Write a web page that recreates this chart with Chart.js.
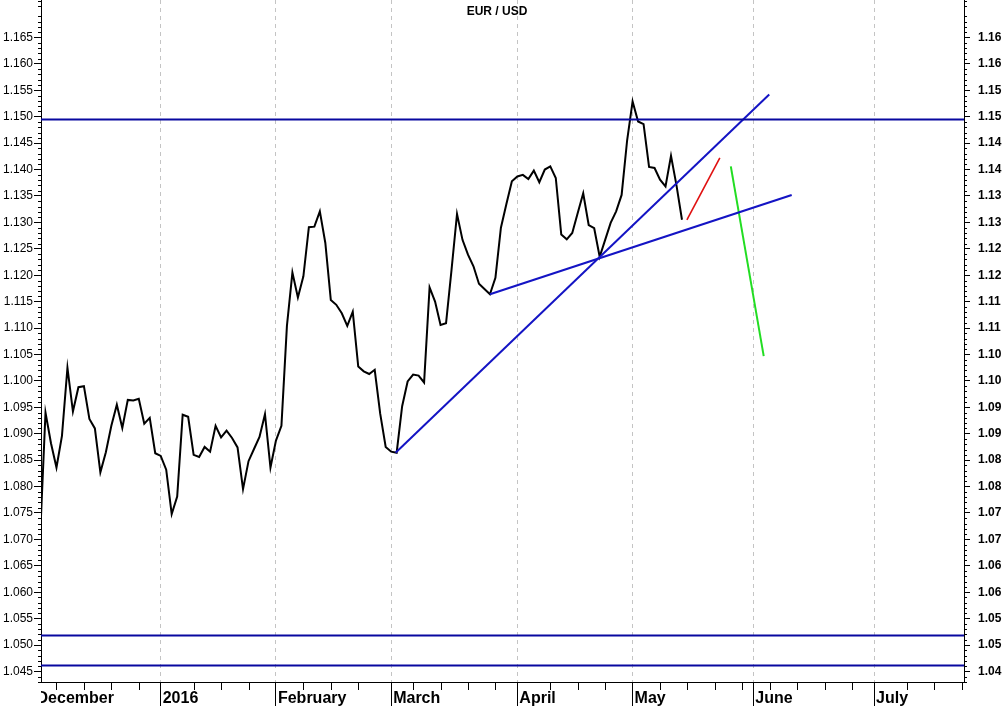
<!DOCTYPE html>
<html>
<head>
<meta charset="utf-8">
<title>EUR / USD</title>
<script src="https://cdn.jsdelivr.net/npm/chart.js@4.4.1/dist/chart.umd.min.js"></script>
<style>
  html, body { margin: 0; padding: 0; background: #fff; }
  #wrap { width: 1005px; height: 706px; }
</style>
</head>
<body>
<div id="wrap"><canvas id="chart" width="1005" height="706"></canvas></div>
<script>
// x axis = trading day index, 0 = Tue 1 Dec 2015
const monthNames = ["December", "2016", "February", "March", "April", "May", "June", "July"];
const monthStarts = [0, 23, 44, 65, 88, 109, 131, 153];
// Mondays (skipping the ones glued to a month start)
const weekTicks = [4, 9, 14, 19, 29, 34, 39, 49, 54, 59, 69, 74, 79, 84, 94, 99, 104,
  114, 119, 124, 129, 134, 139, 144, 149, 159, 164, 169];
const xMin = 1.18;
const xMax = 169.4;

// daily closes, first one is 2 Dec 2015
const firstDay = 1;
const prices = [
  1.0700, 1.0940, 1.0882, 1.0836, 1.0896, 1.1025, 1.0942, 1.0988, 1.0990, 1.0928,
  1.0910, 1.0827, 1.0865, 1.0915, 1.0955, 1.0911, 1.0964, 1.0963, 1.0966, 1.0919,
  1.0930, 1.0863, 1.0858, 1.0832, 1.0748, 1.0781, 1.0936, 1.0932, 1.0860, 1.0856,
  1.0875, 1.0866, 1.0915, 1.0893, 1.0906, 1.0892, 1.0874, 1.0795, 1.0848, 1.0871,
  1.0894, 1.0937, 1.0836, 1.0887, 1.0915, 1.1104, 1.1205, 1.1158, 1.1198, 1.1291,
  1.1292, 1.1321, 1.1261, 1.1153, 1.1144, 1.1128, 1.1104, 1.1131, 1.1027, 1.1018,
  1.1013, 1.1021, 1.0938, 1.0875, 1.0866, 1.0864, 1.0952, 1.0999, 1.1012, 1.1010,
  1.0997, 1.1177, 1.1150, 1.1106, 1.1109, 1.1210, 1.1316, 1.1267, 1.1239, 1.1217,
  1.1184, 1.1174, 1.1164, 1.1195, 1.1290, 1.1335, 1.1378, 1.1387, 1.1390, 1.1382,
  1.1398, 1.1376, 1.1400, 1.1406, 1.1384, 1.1277, 1.1268, 1.1280, 1.1318, 1.1355,
  1.1295, 1.1289, 1.1235, 1.1267, 1.1299, 1.1321, 1.1352, 1.1455, 1.1529, 1.1491,
  1.1486, 1.1405, 1.1403, 1.1381, 1.1368, 1.1426, 1.1370, 1.1305
];

const yMin = 1.0430;
const yMax = 1.1721;
const yTicks = [1.045, 1.050, 1.055, 1.060, 1.065, 1.070, 1.075, 1.080, 1.085, 1.090,
  1.095, 1.100, 1.105, 1.110, 1.115, 1.120, 1.125, 1.130, 1.135, 1.140, 1.145, 1.150,
  1.155, 1.160, 1.165];
const rightLabels = ["1.04", "1.05", "1.05", "1.06", "1.06", "1.07", "1.07", "1.08", "1.08", "1.09",
  "1.09", "1.10", "1.10", "1.11", "1.11", "1.12", "1.12", "1.13", "1.13", "1.14", "1.14", "1.15",
  "1.15", "1.16", "1.16"];

// drawn lines: [day, value] ends
const levels = [1.1495, 1.0518, 1.0461];
const steepTrend = [[65.8, 1.0864], [133.9, 1.1542]];
const flatTrend = [[83.0, 1.1164], [138.0, 1.1352]];
const redLine = [[118.9, 1.1305], [124.9, 1.1422]];
const greenLine = [[126.9, 1.1406], [132.9, 1.1047]];

const FONT = "Arial, 'Liberation Sans', sans-serif";

function seg(pairs) {
  return pairs.map((p) => ({ x: p[0], y: p[1] }));
}

function lineSet(data, color, width) {
  return {
    data,
    borderColor: color,
    borderWidth: width,
    pointRadius: 0,
    fill: false,
    tension: 0,
    clip: 0,
  };
}

const datasets = [];
levels.forEach((lv) => {
  datasets.push(lineSet([{ x: xMin, y: lv }, { x: xMax, y: lv }], "#0808a0", 2));
});
datasets.push(lineSet(seg(steepTrend), "#1414c4", 2));
datasets.push(lineSet(seg(flatTrend), "#1414c4", 2.2));
datasets.push(lineSet(seg(redLine), "#e01010", 1.6));
datasets.push(lineSet(seg(greenLine), "#22dd22", 2));
datasets.push(
  lineSet(prices.map((v, k) => ({ x: firstDay + k, y: v })), "#000000", 2)
);

// minor ticks, month labels, title
const decor = {
  id: "decor",
  afterDraw(chart) {
    const ctx = chart.ctx;
    const area = chart.chartArea;
    const xs = chart.scales.x;
    const ys = chart.scales.y;
    ctx.save();
    ctx.strokeStyle = "#000";
    ctx.lineWidth = 1;
    ctx.beginPath();
    for (let m = Math.ceil(yMin * 1000); m <= Math.floor(yMax * 1000); m++) {
      if (m % 5 === 0) continue;
      const py = Math.round(ys.getPixelForValue(m / 1000)) + 0.5;
      ctx.moveTo(area.left - 3, py);
      ctx.lineTo(area.left, py);
      ctx.moveTo(area.right, py);
      ctx.lineTo(area.right + 3, py);
    }
    weekTicks.forEach((d) => {
      if (d < xMin || d > xMax) return;
      const px = Math.round(xs.getPixelForValue(d)) + 0.5;
      ctx.moveTo(px, area.bottom);
      ctx.lineTo(px, area.bottom + 8);
    });
    ctx.stroke();

    // month names, clipped to the plot width
    ctx.beginPath();
    ctx.rect(area.left, area.bottom, area.right - area.left, 30);
    ctx.clip();
    ctx.fillStyle = "#000";
    ctx.font = "bold 16px " + FONT;
    ctx.textAlign = "left";
    ctx.textBaseline = "alphabetic";
    monthNames.forEach((name, i) => {
      const px = xs.getPixelForValue(monthStarts[i]);
      ctx.fillText(name, px + 2, 703);
    });
    ctx.restore();

    ctx.save();
    ctx.fillStyle = "#000";
    ctx.font = "bold 12px " + FONT;
    ctx.textAlign = "center";
    ctx.textBaseline = "alphabetic";
    ctx.fillText("EUR / USD", 497, 15);
    ctx.restore();
  },
};

function yAxis(position, labelFn, font, tickLen, pad) {
  return {
    type: "linear",
    position,
    min: yMin,
    max: yMax,
    afterBuildTicks: (s) => {
      s.ticks = yTicks.map((v) => ({ value: v }));
    },
    afterFit: (s) => {
      s.width = 41;
      s.paddingTop = 0;
      s.paddingBottom = 0;
    },
    ticks: {
      autoSkip: false,
      color: "#000",
      font,
      padding: pad,
      callback: labelFn,
    },
    grid: {
      drawOnChartArea: false,
      drawTicks: true,
      tickLength: tickLen,
      tickColor: "#000",
    },
    border: { display: true, color: "#000", width: 1 },
  };
}

new Chart(document.getElementById("chart"), {
  type: "line",
  data: { datasets },
  options: {
    responsive: false,
    animation: false,
    devicePixelRatio: 1,
    layout: { padding: 0 },
    plugins: {
      legend: { display: false },
      tooltip: { enabled: false },
      title: { display: false },
    },
    scales: {
      x: {
        type: "linear",
        min: xMin,
        max: xMax,
        afterBuildTicks: (s) => {
          s.ticks = monthStarts
            .filter((v) => v >= xMin && v <= xMax)
            .map((v) => ({ value: v }));
        },
        afterFit: (s) => {
          s.height = 24;
          s.paddingLeft = 0;
          s.paddingRight = 0;
        },
        ticks: { display: false },
        grid: {
          color: "#c4c4c4",
          lineWidth: 1,
          drawTicks: true,
          tickLength: 24,
          tickColor: "#000",
          tickWidth: 1,
        },
        border: { display: true, color: "#000", width: 1, dash: [4, 4] },
      },
      y: yAxis(
        "left",
        (v) => Number(v).toFixed(3),
        { family: FONT, size: 12 },
        7,
        1
      ),
      y2: yAxis(
        "right",
        (v, i) => rightLabels[i],
        { family: FONT, size: 12, weight: "bold" },
        6,
        8
      ),
    },
  },
  plugins: [decor],
});
</script>
</body>
</html>
